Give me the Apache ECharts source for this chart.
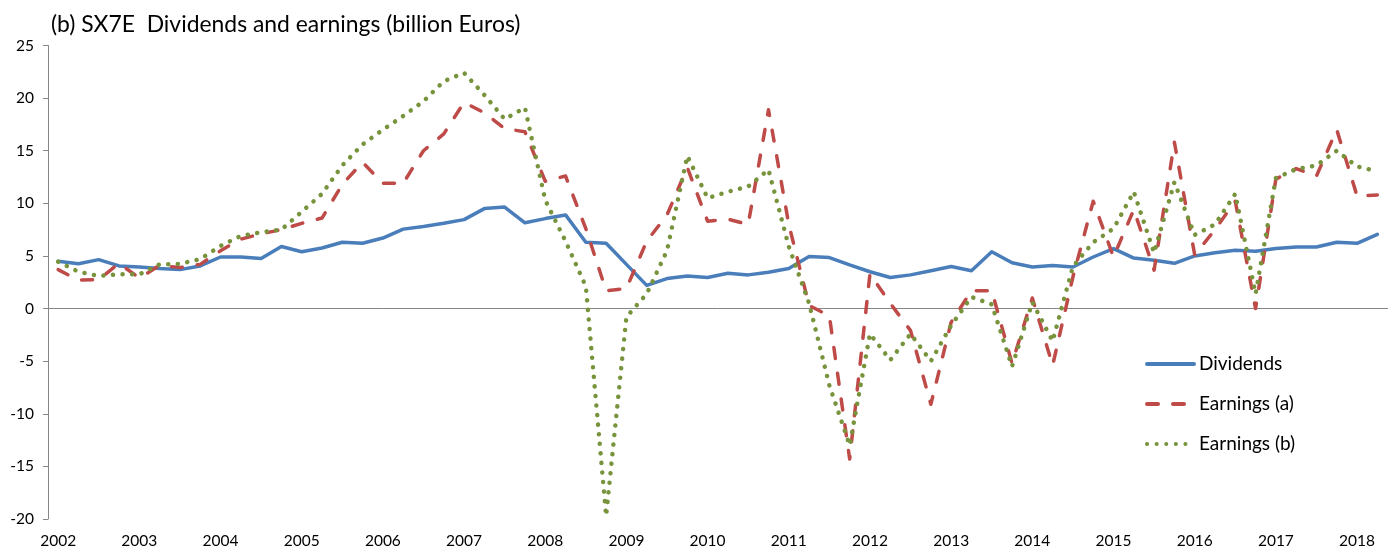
<!DOCTYPE html>
<html>
<head>
<meta charset="utf-8">
<script src="https://cdn.jsdelivr.net/npm/echarts@6/dist/echarts.min.js"></script>
<style>
html,body{margin:0;padding:0;background:#fff;}
#chart{width:1395px;height:555px;}
</style>
</head>
<body>
<div id="chart"></div>
<script>
const quarters = ['2002Q1','2002Q2','2002Q3','2002Q4','2003Q1','2003Q2','2003Q3','2003Q4',
'2004Q1','2004Q2','2004Q3','2004Q4','2005Q1','2005Q2','2005Q3','2005Q4',
'2006Q1','2006Q2','2006Q3','2006Q4','2007Q1','2007Q2','2007Q3','2007Q4',
'2008Q1','2008Q2','2008Q3','2008Q4','2009Q1','2009Q2','2009Q3','2009Q4',
'2010Q1','2010Q2','2010Q3','2010Q4','2011Q1','2011Q2','2011Q3','2011Q4',
'2012Q1','2012Q2','2012Q3','2012Q4','2013Q1','2013Q2','2013Q3','2013Q4',
'2014Q1','2014Q2','2014Q3','2014Q4','2015Q1','2015Q2','2015Q3','2015Q4',
'2016Q1','2016Q2','2016Q3','2016Q4','2017Q1','2017Q2','2017Q3','2017Q4',
'2018Q1','2018Q2'];

const dividends = [4.5,4.25,4.65,4.05,3.95,3.8,3.7,4.05,
4.9,4.9,4.75,5.9,5.4,5.75,6.3,6.2,
6.7,7.55,7.8,8.1,8.45,9.5,9.65,8.15,
8.55,8.9,6.3,6.2,4.2,2.2,2.85,3.1,
2.95,3.35,3.2,3.45,3.8,4.95,4.85,4.15,
3.5,2.95,3.2,3.6,4.0,3.6,5.4,4.35,
3.95,4.1,3.95,4.9,5.7,4.8,4.6,4.3,
5.0,5.3,5.55,5.45,5.7,5.85,5.85,6.3,
6.2,7.05];

const earningsA = [3.7,2.7,2.75,4.3,2.9,4.1,3.9,4.2,
5.5,6.6,7.1,7.5,8.1,8.6,11.8,13.9,
11.9,11.9,15.0,16.6,19.6,18.6,17.1,16.8,
12.1,12.6,7.6,1.7,1.9,6.4,8.9,13.4,
8.3,8.5,8.0,18.9,8.0,0.3,-0.7,-14.3,
3.3,0.5,-2.1,-9.1,-1.3,1.7,1.7,-5.2,
1.0,-5.4,3.0,10.2,4.9,9.4,3.65,15.8,
5.1,7.5,10.2,0.0,12.3,13.3,12.6,17.0,
10.7,10.8];

const earningsB = [4.45,3.5,3.1,3.25,3.25,4.2,4.25,4.7,
5.95,6.9,7.25,7.5,9.2,10.9,13.6,15.6,
17.0,18.3,19.7,21.6,22.4,20.3,18.0,19.1,
10.3,6.4,2.1,-19.7,-0.8,1.4,5.5,14.5,
10.5,11.1,11.6,13.2,5.9,0.5,-7.3,-13.0,
-2.4,-4.9,-2.4,-5.0,-1.6,1.1,0.4,-5.5,
0.6,-3.1,4.0,6.3,7.6,11.1,5.3,12.0,
7.0,8.0,10.9,1.4,12.4,13.25,13.6,15.0,
13.5,13.05];

const seriesNames = ['Dividends','Earnings (a)','Earnings (b)'];
const titleText = '(b) SX7E  Dividends and earnings (billion Euros)';

const FONT = 'Lato';
const chart = echarts.init(document.getElementById('chart'), null, {renderer:'canvas'});
chart.setOption({
  animation: false,
  backgroundColor: '#ffffff',
  title: {
    text: titleText,
    left: 51, top: 13, padding: 0,
    textStyle: {fontFamily: FONT, fontSize: 22.9, fontWeight: 'normal', color: '#000'}
  },
  grid: {left: 48, right: 7.5, top: 45.5, bottom: 36, containLabel: false},
  legend: {
    orient: 'vertical',
    left: 1145, top: 354, padding: 0,
    itemWidth: 47, itemHeight: 14, itemGap: 20,
    itemStyle: {color: 'rgba(0,0,0,0)', borderWidth: 0, opacity: 0},
    lineStyle: {width: 4},
    textStyle: {fontFamily: FONT, fontSize: 19, color: '#000', lineHeight: 20},
    data: seriesNames
  },
  xAxis: [{
    type: 'category',
    data: quarters,
    position: 'bottom',
    axisLine: {show: false, onZero: false},
    axisTick: {show: false},
    axisLabel: {
      interval: 3, margin: 14,
      fontFamily: FONT, fontSize: 15.5, color: '#000',
      formatter: function (v) { return v.slice(4) === 'Q1' ? v.slice(0, 4) : ''; }
    },
    splitLine: {show: false}
  }, {
    type: 'category',
    data: quarters,
    position: 'top',
    axisLine: {show: true, onZero: true, lineStyle: {color: '#868686', width: 1}},
    axisTick: {show: false},
    axisLabel: {show: false},
    splitLine: {show: false}
  }],
  yAxis: {
    type: 'value',
    min: -20, max: 25, interval: 5,
    axisLine: {show: true, lineStyle: {color: '#868686', width: 1}},
    axisTick: {show: true, inside: false, length: 5, lineStyle: {color: '#868686'}},
    axisLabel: {margin: 14, fontFamily: FONT, fontSize: 15.5, color: '#000'},
    splitLine: {show: false}
  },
  series: [{
    name: seriesNames[0], type: 'line', data: dividends, xAxisIndex: 0,
    symbol: 'none', smooth: false,
    lineStyle: {color: '#4A7EBB', width: 3.5, cap: 'round', join: 'round'},
    itemStyle: {color: '#4A7EBB'}, z: 3
  }, {
    name: seriesNames[1], type: 'line', data: earningsA, xAxisIndex: 0,
    symbol: 'none', smooth: false,
    lineStyle: {color: '#BE4B48', width: 3.5, type: [11, 15], cap: 'round', join: 'round'},
    itemStyle: {color: '#BE4B48'}, z: 4
  }, {
    name: seriesNames[2], type: 'line', data: earningsB, xAxisIndex: 0,
    symbol: 'none', smooth: false,
    lineStyle: {color: '#77933C', width: 4.5, type: [0.1, 9.5], cap: 'round', join: 'round'},
    itemStyle: {color: '#77933C'}, z: 5
  }]
});
</script>
</body>
</html>
